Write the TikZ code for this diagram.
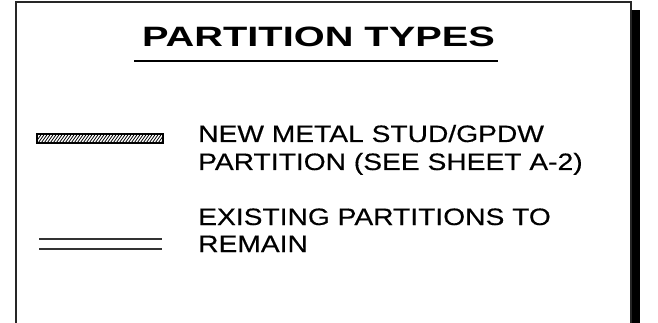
\documentclass[tikz,border=0pt]{standalone}
\usepackage{fontspec}
\newfontfamily\bodyfont{Liberation Sans}[FakeStretch=1.19,FakeBold=0.4]
\newfontfamily\titlefont{Liberation Sans}[FakeStretch=1.42]
\tikzset{
  frame/.style={line width=2pt, black!85},
  bodytext/.style={font=\bodyfont\fontsize{23.7}{26}\selectfont, anchor=base west, inner sep=0pt},
  titletext/.style={font=\titlefont\bfseries\fontsize{28}{30}\selectfont, anchor=base, inner sep=0pt},
  exline/.style={line width=1.3pt, black!80}
}
\begin{document}
\begin{tikzpicture}[x=1pt,y=-1pt]
\useasboundingbox (0,0) rectangle (658,323);
\fill[white] (0,0) rectangle (658,323);
% shadow bar
\fill[black] (632,10) rectangle (640,323);
% frame
\draw[frame] (16,324) -- (16,2) -- (631,2) -- (631,324);
% title
\node[titletext] (title) at (318.5,47) {PARTITION TYPES};
\draw[line width=2.5pt] (134,61) -- (498,61);
% hatched bar
\begin{scope}
  \clip (37,134.5) rectangle (163,143.5);
  \foreach \i in {0,3,...,135} \draw[line width=0.8pt] (30+\i,146) -- (40+\i,132);
\end{scope}
\draw[line width=2pt] (37,134.5) rectangle (163,143.5);
% double lines
\draw[exline] (39,239) -- (162,239);
\draw[exline] (39,249) -- (162,249);
% texts
\node[bodytext] (t1) at (198,142) {NEW METAL STUD/GPDW};
\node[bodytext] (t2) at (198,170) {PARTITION (SEE SHEET A-2)};
\node[bodytext] (t3) at (198,225) {EXISTING PARTITIONS TO};
\node[bodytext] (t4) at (198,252) {REMAIN};
\end{tikzpicture}
\end{document}
